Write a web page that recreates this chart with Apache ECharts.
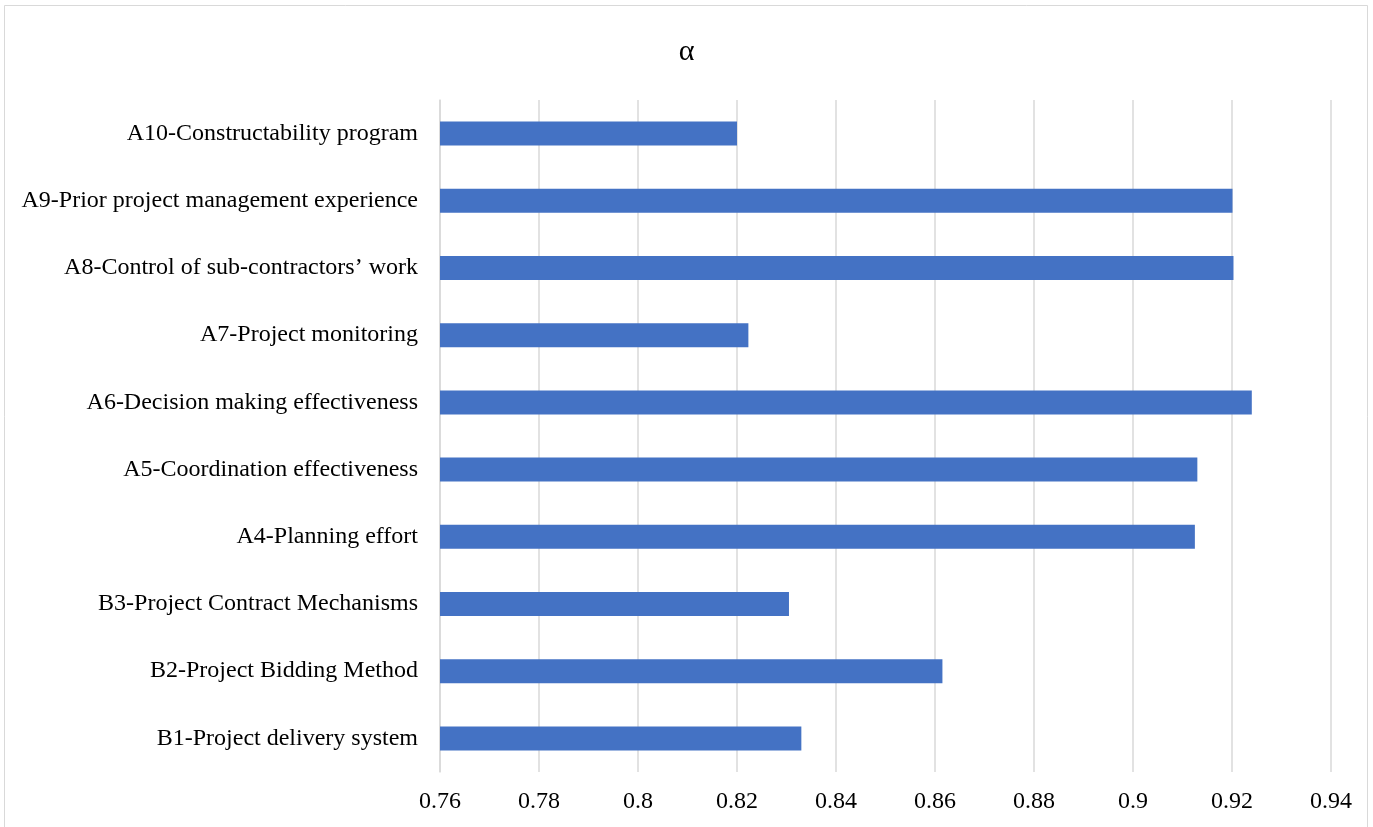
<!DOCTYPE html>
<html>
<head>
<meta charset="utf-8">
<script src="https://cdn.jsdelivr.net/npm/echarts@6/dist/echarts.min.js"></script>
<style>
  html, body { margin: 0; padding: 0; background: #fff; }
  #chart { width: 1373px; height: 827px; }
</style>
</head>
<body>
<div id="chart"></div>
<script>
// Factor names, bottom to top as drawn on the category axis
const categories = [
  'B1-Project delivery system',
  'B2-Project Bidding Method',
  'B3-Project Contract Mechanisms',
  'A4-Planning effort',
  'A5-Coordination effectiveness',
  'A6-Decision making effectiveness',
  'A7-Project monitoring',
  'A8-Control of sub-contractors\u2019 work',
  'A9-Prior project management experience',
  'A10-Constructability program'
];
// Cronbach's alpha per factor
const alphaValues = [0.833, 0.8615, 0.8305, 0.9125, 0.913, 0.924, 0.8223, 0.9203, 0.9201, 0.820];
const axisMin = 0.76;
const axisMax = 0.94;
const axisStep = 0.02;

const chart = echarts.init(document.getElementById('chart'));
const serif = '"Liberation Serif", "DejaVu Serif", serif';

chart.setOption({
  animation: false,
  backgroundColor: '#fff',
  title: {
    text: '\u03b1',
    left: 'center',
    top: 32,
    textStyle: { fontFamily: serif, fontSize: 30, fontWeight: 'normal', color: '#000' }
  },
  graphic: [{
    type: 'rect',
    shape: { x: 4.5, y: 5.5, width: 1363, height: 830 },
    style: { fill: 'none', stroke: '#d9d9d9', lineWidth: 1 },
    silent: true
  }],
  grid: { left: 440, right: 42, top: 100, bottom: 55, containLabel: false },
  xAxis: {
    type: 'value',
    min: axisMin,
    max: axisMax,
    interval: axisStep,
    axisLine: { show: false },
    axisTick: { show: false },
    splitLine: { show: true, lineStyle: { color: '#d9d9d9', width: 1.5 } },
    axisLabel: {
      fontFamily: serif, fontSize: 24, color: '#000', margin: 18,
      formatter: v => String(parseFloat(v.toFixed(2)))
    }
  },
  yAxis: {
    type: 'category',
    data: categories,
    axisLine: { show: true, lineStyle: { color: '#d9d9d9', width: 1.5 } },
    axisTick: { show: false },
    axisLabel: { fontFamily: serif, fontSize: 24, color: '#000', margin: 22 }
  },
  series: [{
    type: 'bar',
    data: alphaValues,
    barWidth: 24,
    itemStyle: { color: '#4472C4' }
  }]
});
</script>
</body>
</html>
